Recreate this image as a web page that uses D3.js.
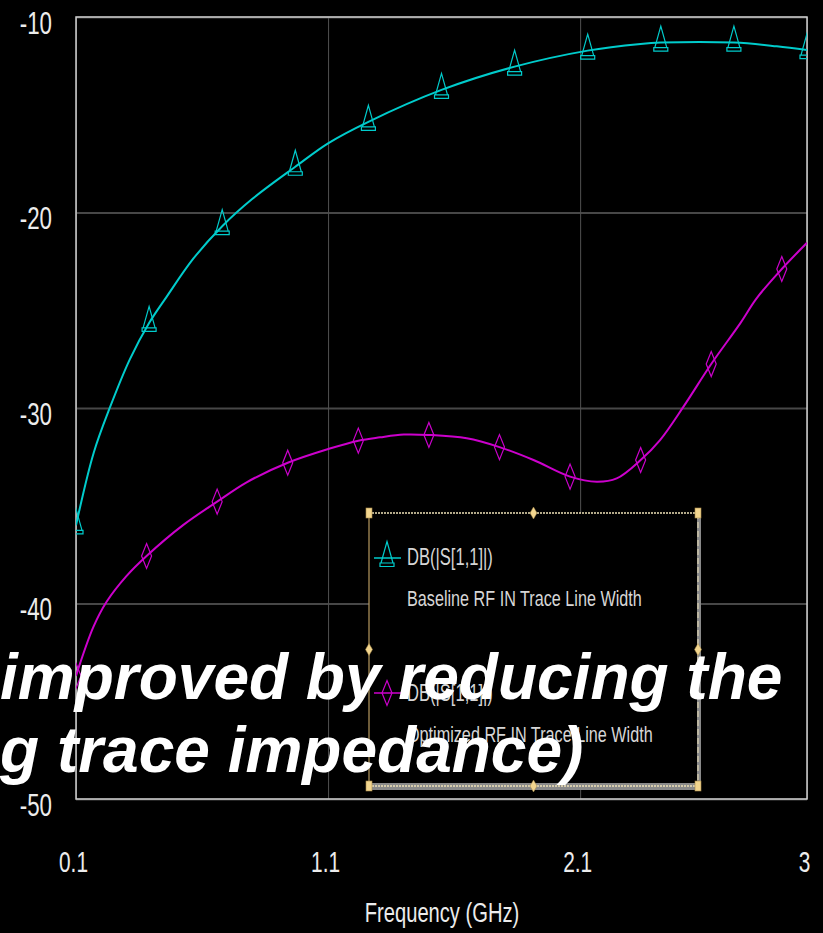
<!DOCTYPE html>
<html>
<head>
<meta charset="utf-8">
<script src="https://cdn.jsdelivr.net/npm/d3@7"></script>
<style>
  html, body { margin: 0; background: #000; }
  svg { display: block; }
</style>
</head>
<body>
<svg id="chart" width="823" height="933"></svg>
<script>
// ---- Axis ticks ----
const freqTicks = [0.1, 1.1, 2.1, 3];
const freqTickLabels = ["0.1", "1.1", "2.1", "3"];
const dbTicks = [-10, -20, -30, -40, -50];
const dbTickLabels = ["-10", "-20", "-30", "-40", "-50"];
const xTitle = "Frequency (GHz)";

// ---- Baseline trace: DB(|S[1,1]|), GHz / dB ----
const baselineFreq = [0.1, 0.17, 0.235, 0.314, 0.39, 0.46, 0.566, 0.68, 0.8, 0.97, 1.1, 1.26, 1.55, 1.84, 2.13, 2.34, 2.42, 2.71, 2.88, 3.0];
const baselineDb   = [-36.0, -32.3, -29.96, -27.5, -25.65, -24.3, -22.35, -20.7, -19.3, -17.66, -16.46, -15.36, -13.73, -12.54, -11.72, -11.38, -11.31, -11.31, -11.5, -11.69];
const baselineMarkFreq = [0.1, 0.39, 0.68, 0.97, 1.26, 1.55, 1.84, 2.13, 2.42, 2.71, 3.0];
const baselineMarkDb   = [-36.0, -25.65, -20.7, -17.66, -15.36, -13.73, -12.54, -11.72, -11.31, -11.31, -11.69];

// ---- Optimized trace: DB(|S[1,1]|), GHz / dB ----
const optimizedFreq = [0.1, 0.169, 0.222, 0.3, 0.38, 0.526, 0.66, 0.777, 0.94, 1.1, 1.22, 1.306, 1.4, 1.5, 1.65, 1.78, 1.915, 2.06, 2.166, 2.245, 2.34, 2.417, 2.51, 2.62, 2.735, 2.8, 2.9, 3.0];
const optimizedDb   = [-43.7, -41.2, -39.9, -38.6, -37.57, -35.98, -34.79, -33.8, -32.8, -32.1, -31.67, -31.5, -31.36, -31.38, -31.55, -32.0, -32.66, -33.51, -33.77, -33.6, -32.66, -31.64, -29.93, -27.75, -25.67, -24.39, -22.89, -21.55];
const optimizedMarkFreq = [0.1, 0.38, 0.66, 0.94, 1.22, 1.5, 1.78, 2.06, 2.34, 2.62, 2.9];
const optimizedMarkDb   = [-43.7, -37.57, -34.79, -32.8, -31.67, -31.38, -32.0, -33.51, -32.66, -27.75, -22.89];

// ---- Legend entries ----
const legendNames = ["DB(|S[1,1]|)", "DB(|S[1,1]|)"];
const legendNotes = ["Baseline RF IN Trace Line Width", "Optimized RF IN Trace Line Width"];

// ---- Caption lines ----
const captionLines = ["improved by reducing the", "g trace impedance)"];

// ---- Layout ----
const W = 823, H = 933;
const plot = { left: 76, right: 807, top: 17, bottom: 799 };
const plotW = plot.right - plot.left, plotH = plot.bottom - plot.top;
const CYAN = "#00cccc", MAGENTA = "#cc00cc";
const SQUEEZE = 0.72; // horizontally condensed lettering

const svg = d3.select("#chart");
svg.append("rect").attr("width", W).attr("height", H).attr("fill", "#000");

const x = d3.scaleLinear().domain([0.1, 3]).range([plot.left, plot.right]);
const y = d3.scaleLinear().domain([-50, -10]).range([plot.bottom, plot.top]);

// Horizontal grid + y labels
const yAxisG = svg.append("g").attr("transform", `translate(${plot.left},0)`)
  .call(d3.axisLeft(y).tickValues(dbTicks)
    .tickFormat((d, i) => dbTickLabels[i])
    .tickSize(-plotW).tickPadding(0));
yAxisG.select(".domain").remove();
yAxisG.selectAll(".tick line").attr("stroke", "#474747").attr("stroke-width", 2);
yAxisG.selectAll(".tick text")
  .attr("x", 0).attr("dy", null).attr("y", 0)
  .attr("transform", `translate(-24,16) scale(${SQUEEZE},1)`)
  .attr("text-anchor", "end")
  .attr("fill", "#ececec")
  .style("font-family", "'Liberation Sans', Arial, sans-serif")
  .style("font-size", "31px");

// Vertical grid + x labels
const xAxisG = svg.append("g").attr("transform", `translate(0,${plot.bottom})`)
  .call(d3.axisBottom(x).tickValues(freqTicks)
    .tickFormat((d, i) => freqTickLabels[i])
    .tickSize(-plotH).tickPadding(0));
xAxisG.select(".domain").remove();
xAxisG.selectAll(".tick line").attr("stroke", "#505050").attr("stroke-width", 1);
xAxisG.selectAll(".tick text")
  .attr("x", 0).attr("y", 0).attr("dy", null)
  .attr("transform", `translate(-3,73) scale(${SQUEEZE},1)`)
  .attr("text-anchor", "middle")
  .attr("fill", "#ececec")
  .style("font-family", "'Liberation Sans', Arial, sans-serif")
  .style("font-size", "29px");

// X axis title
svg.append("text")
  .attr("transform", `translate(442,922) scale(${SQUEEZE},1)`)
  .attr("text-anchor", "middle")
  .attr("fill", "#ececec")
  .style("font-family", "'Liberation Sans', Arial, sans-serif")
  .style("font-size", "28px")
  .text(xTitle);

// Plot frame
svg.append("rect")
  .attr("x", plot.left).attr("y", plot.top)
  .attr("width", plotW).attr("height", plotH)
  .attr("fill", "none").attr("stroke", "#cfcfcf").attr("stroke-width", 1.5);

// Clip for traces
svg.append("clipPath").attr("id", "plotClip")
  .append("rect").attr("x", plot.left).attr("y", plot.top)
  .attr("width", plotW).attr("height", plotH);

const traces = svg.append("g").attr("clip-path", "url(#plotClip)");

const line = d3.line().x(d => x(d[0])).y(d => y(d[1])).curve(d3.curveCatmullRom.alpha(0.5));

const triPath = "M0,-16.5 L6,5 L-6,5 Z M-7,5 H7 V8.5 H-7 Z";
const diaPath = "M0,-12.5 L5,0 L0,12.5 L-5,0 Z";

function drawTrace(freqs, dbs, mFreqs, mDbs, color, shape) {
  traces.append("path")
    .datum(d3.zip(freqs, dbs))
    .attr("d", line)
    .attr("fill", "none")
    .attr("stroke", color)
    .attr("stroke-width", 2);
  traces.append("g").selectAll("path")
    .data(d3.zip(mFreqs, mDbs))
    .join("path")
    .attr("transform", d => `translate(${x(d[0])},${y(d[1])})`)
    .attr("d", shape)
    .attr("fill", "none")
    .attr("stroke", color)
    .attr("stroke-width", 1.2);
}

drawTrace(baselineFreq, baselineDb, baselineMarkFreq, baselineMarkDb, CYAN, triPath);
drawTrace(optimizedFreq, optimizedDb, optimizedMarkFreq, optimizedMarkDb, MAGENTA, diaPath);

// ---- Legend box with selection handles ----
const lg = { x0: 369, x1: 698, y0: 513, y1: 786 };
const legend = svg.append("g");
legend.append("rect")
  .attr("x", lg.x0).attr("y", lg.y0)
  .attr("width", lg.x1 - lg.x0).attr("height", lg.y1 - lg.y0)
  .attr("fill", "#000");
// shadow bars on right and bottom
legend.append("rect").attr("x", lg.x1 - 1).attr("y", lg.y0 + 4)
  .attr("width", 4).attr("height", lg.y1 - lg.y0).attr("fill", "#8a8a8a");
legend.append("rect").attr("x", lg.x0 + 3).attr("y", lg.y1 - 3)
  .attr("width", lg.x1 - lg.x0).attr("height", 7).attr("fill", "#8a8a8a");
// outline
legend.append("line").attr("x1", lg.x0).attr("x2", lg.x1).attr("y1", lg.y0).attr("y2", lg.y0)
  .attr("stroke", "#efe2b8").attr("stroke-width", 1.5).attr("stroke-dasharray", "2,1");
legend.append("line").attr("x1", lg.x0).attr("x2", lg.x0).attr("y1", lg.y0).attr("y2", lg.y1)
  .attr("stroke", "#b89a60").attr("stroke-width", 1.2);
legend.append("line").attr("x1", lg.x1).attr("x2", lg.x1).attr("y1", lg.y0).attr("y2", lg.y1)
  .attr("stroke", "#efe2b8").attr("stroke-width", 1).attr("stroke-dasharray", "6,3");
legend.append("line").attr("x1", lg.x0).attr("x2", lg.x1).attr("y1", lg.y1).attr("y2", lg.y1)
  .attr("stroke", "#efe2b8").attr("stroke-width", 1.5).attr("stroke-dasharray", "2,1");
// handles
const mx = (lg.x0 + lg.x1) / 2, my = (lg.y0 + lg.y1) / 2;
[[lg.x0, lg.y0], [lg.x1, lg.y0], [lg.x0, lg.y1], [lg.x1, lg.y1]].forEach(([hx, hy]) => {
  legend.append("rect").attr("x", hx - 3).attr("y", hy - 5).attr("width", 6).attr("height", 10)
    .attr("fill", "#f2d58e").attr("stroke", "#a88a4a").attr("stroke-width", 0.6);
});
[[mx, lg.y0], [mx, lg.y1], [lg.x0, my], [lg.x1, my]].forEach(([hx, hy]) => {
  legend.append("path").attr("transform", `translate(${hx},${hy})`)
    .attr("d", "M0,-6 L3.5,0 L0,6 L-3.5,0 Z")
    .attr("fill", "#f2d58e").attr("stroke", "#a88a4a").attr("stroke-width", 0.5);
});

const legendRows = [
  { color: CYAN, shape: triPath, symY: 558, nameY: 565, noteY: 606 },
  { color: MAGENTA, shape: diaPath, symY: 693, nameY: 701, noteY: 742 }
];
legendRows.forEach((r, i) => {
  legend.append("line").attr("x1", 374).attr("x2", 401).attr("y1", r.symY).attr("y2", r.symY)
    .attr("stroke", r.color).attr("stroke-width", 1.5);
  legend.append("path").attr("transform", `translate(387,${r.symY})`)
    .attr("d", r.shape).attr("fill", "none").attr("stroke", r.color).attr("stroke-width", 1.2);
  legend.append("text")
    .attr("transform", `translate(407,${r.nameY}) scale(${SQUEEZE},1)`)
    .attr("fill", "#d6d6d6")
    .style("font-family", "'Liberation Sans', Arial, sans-serif")
    .style("font-size", "23px")
    .text(legendNames[i]);
  legend.append("text")
    .attr("transform", `translate(407,${r.noteY}) scale(${SQUEEZE},1)`)
    .attr("fill", "#d6d6d6")
    .style("font-family", "'Liberation Sans', Arial, sans-serif")
    .style("font-size", "22.5px")
    .text(legendNotes[i]);
});

// ---- Caption over the chart ----
svg.append("g").selectAll("text")
  .data(captionLines)
  .join("text")
  .attr("x", 0)
  .attr("y", (d, i) => 699 + i * 73)
  .attr("fill", "#ffffff")
  .style("font-family", "'Liberation Sans', Arial, sans-serif")
  .style("font-weight", "bold")
  .style("font-style", "italic")
  .style("font-size", "64px")
  .text(d => d);
</script>
</body>
</html>
